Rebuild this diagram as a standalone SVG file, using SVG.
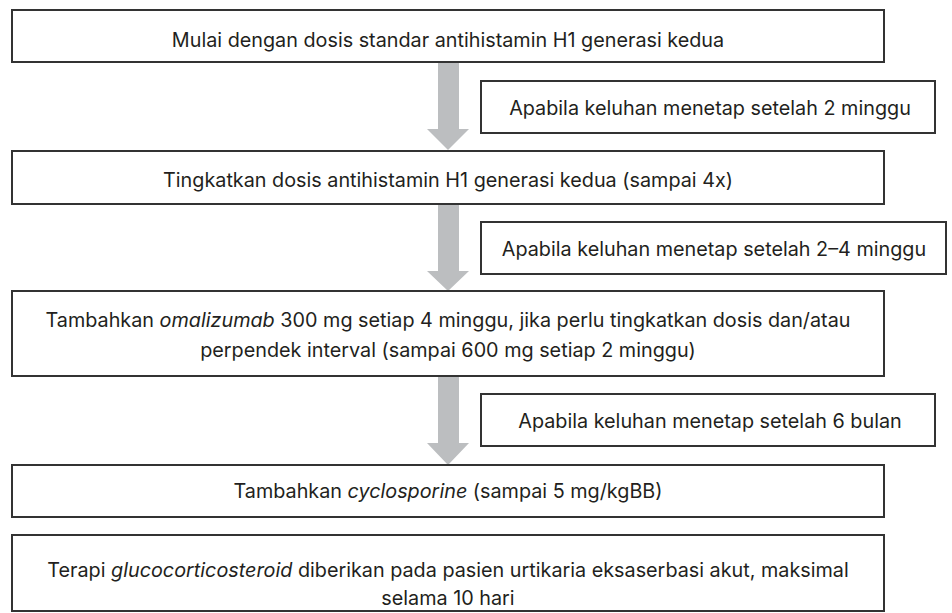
<svg xmlns="http://www.w3.org/2000/svg" width="952" height="613" viewBox="0 0 952 613">
<style>
.box{fill:#fff;stroke:#333;stroke-width:2}
.t{font-family:Inter,"Liberation Sans",sans-serif;font-size:19.8px;fill:#231f20;text-anchor:middle}
.arr{fill:#bcbec0}
</style>
<rect width="952" height="613" fill="#fff"/>
<g id="connectors">
<polygon class="arr" points="438,63 459,63 459,129 469,129 448,150 427,129 438,129"/>
<polygon class="arr" points="438,205 459,205 459,271 469,271 448,291 427,271 438,271"/>
<polygon class="arr" points="438,377 459,377 459,443 469,443 448,465 427,443 438,443"/>
</g>
<g id="n1"><rect class="box" x="12" y="10" width="872" height="52"/><text class="t" x="448" y="47">Mulai dengan dosis standar antihistamin H1 generasi kedua</text></g>
<g id="c1"><rect class="box" x="481" y="81" width="454" height="52"/><text class="t" x="710" y="115">Apabila keluhan menetap setelah 2 minggu</text></g>
<g id="n2"><rect class="box" x="12" y="151" width="872" height="53"/><text class="t" x="448" y="187">Tingkatkan dosis antihistamin H1 generasi kedua (sampai 4x)</text></g>
<g id="c2"><rect class="box" x="481" y="222" width="465" height="52"/><text class="t" x="714" y="256">Apabila keluhan menetap setelah 2–4 minggu</text></g>
<g id="n3"><rect class="box" x="12" y="291" width="872" height="85"/><text class="t" x="448" y="327">Tambahkan <tspan font-style="italic">omalizumab</tspan> 300 mg setiap 4 minggu, jika perlu tingkatkan dosis dan/atau</text><text class="t" x="448" y="357">perpendek interval (sampai 600 mg setiap 2 minggu)</text></g>
<g id="c3"><rect class="box" x="481" y="394" width="454" height="52"/><text class="t" x="710" y="428">Apabila keluhan menetap setelah 6 bulan</text></g>
<g id="n4"><rect class="box" x="12" y="465" width="872" height="52"/><text class="t" x="448" y="498">Tambahkan <tspan font-style="italic">cyclosporine</tspan> (sampai 5 mg/kgBB)</text></g>
<g id="n5"><rect class="box" x="12" y="535" width="872" height="76"/><text class="t" x="448" y="577">Terapi <tspan font-style="italic">glucocorticosteroid</tspan> diberikan pada pasien urtikaria eksaserbasi akut, maksimal</text><text class="t" x="448" y="605">selama 10 hari</text></g>
</svg>
